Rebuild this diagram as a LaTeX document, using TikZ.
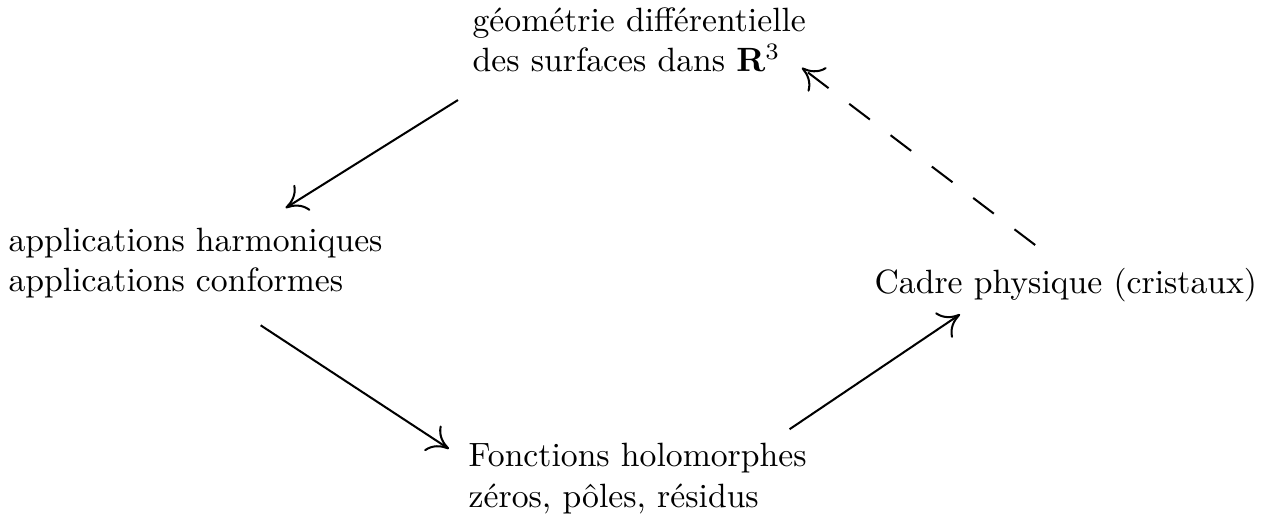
\documentclass[tikz,border=0pt]{standalone}
\usepackage{amsmath, amssymb}
\usepackage{tikz}
\usetikzlibrary{arrows.meta}

\begin{document}
\begin{tikzpicture}[
  topic/.style={inner sep=0pt, align=left, anchor=north west},
  link/.style={-{Computer Modern Rightarrow[length=6pt, width=9pt]}, line width=0.6pt}
]
  \useasboundingbox (0,0) rectangle (13.25,-5.414);

  \node[topic] (geo) at (4.924,-0.07) {géométrie différentielle\\des surfaces dans $\mathbf{R}^3$};
  \node[topic] (harm) at (0.083,-2.37) {applications harmoniques\\applications conformes};
  \node[topic] (holo) at (4.883,-4.618) {Fonctions holomorphes\\zéros, pôles, résidus};
  \node[topic] (phys) at (9.118,-2.79) {Cadre physique (cristaux)};

  \draw[link] ([shift={(-0.146,-0.286)}]geo.south west) -- ([shift={(0.939,0.2)}]harm.north);
  \draw[link] ([shift={(0.679,-0.276)}]harm.south) -- ([shift={(-0.199,-0.065)}]holo.north west);
  \draw[link] ([shift={(-0.184,0.14)}]holo.north east) -- ([shift={(0.898,-0.124)}]phys.south west);
  \draw[link, dash pattern=on 7.7pt off 7.7pt] ([shift={(-0.32,0.234)}]phys.north) -- ([shift={(-0.05,0.05)}]geo.south east);
\end{tikzpicture}
\end{document}
